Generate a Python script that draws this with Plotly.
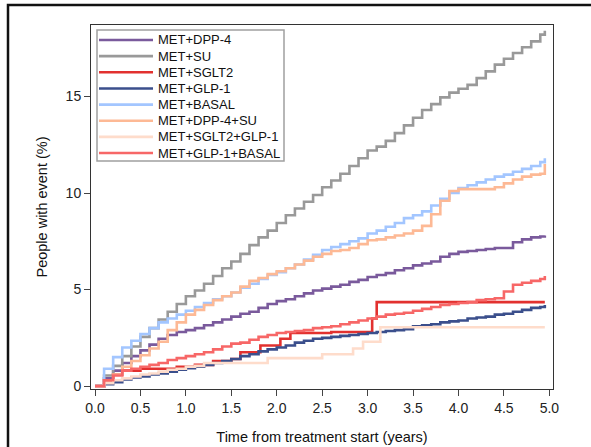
import plotly.graph_objects as go

# ---------------- data ----------------
t_grid = [0.0, 0.1, 0.2, 0.3, 0.4, 0.5, 0.6, 0.7, 0.8, 0.9,
          1.0, 1.1, 1.2, 1.3, 1.4, 1.5, 1.6, 1.7, 1.8, 1.9,
          2.0, 2.1, 2.2, 2.3, 2.4, 2.5, 2.6, 2.7, 2.8, 2.9,
          3.0, 3.1, 3.2, 3.3, 3.4, 3.5, 3.6, 3.7, 3.8, 3.9,
          4.0, 4.1, 4.2, 4.3, 4.4, 4.5, 4.6, 4.7, 4.8, 4.9, 4.95]

met_dpp4 = [0, 0.4, 0.8, 1.2, 1.55, 1.85, 2.15, 2.45, 2.65, 2.8,
            2.9, 3.0, 3.15, 3.3, 3.45, 3.6, 3.75, 3.85, 4.05, 4.25,
            4.4, 4.5, 4.65, 4.8, 4.95, 5.05, 5.15, 5.25, 5.4, 5.5,
            5.65, 5.75, 5.85, 6.0, 6.1, 6.25, 6.35, 6.45, 6.7, 6.85,
            6.95, 7.0, 7.05, 7.1, 7.15, 7.15, 7.45, 7.6, 7.7, 7.75, 7.8]

met_su = [0, 0.55, 1.05, 1.55, 2.05, 2.55, 3.0, 3.45, 3.85, 4.25,
          4.65, 4.95, 5.3, 5.7, 6.1, 6.45, 6.85, 7.3, 7.7, 8.05,
          8.45, 8.85, 9.2, 9.55, 9.9, 10.3, 10.65, 11.0, 11.4, 11.8,
          12.2, 12.4, 12.7, 13.1, 13.5, 13.9, 14.3, 14.6, 14.95, 15.2,
          15.4, 15.6, 15.95, 16.3, 16.65, 16.95, 17.25, 17.55, 17.85, 18.2, 18.4]

sglt2_t = [0, 0.1, 0.2, 0.3, 0.5, 0.9, 1.1, 1.3, 1.5, 1.6, 1.82, 2.04, 2.15, 2.6, 3.05, 3.1, 4.95]
met_sglt2 = [0, 0.3, 0.6, 0.8, 0.9, 1.0, 1.1, 1.3, 1.4, 1.75, 2.1, 2.45, 2.75, 2.8, 3.5, 4.35, 4.35]

met_glp1 = [0, 0.1, 0.2, 0.35, 0.45, 0.5, 0.6, 0.65, 0.75, 0.85,
            0.93, 1.0, 1.1, 1.2, 1.3, 1.4, 1.55, 1.65, 1.8, 1.9,
            2.0, 2.1, 2.25, 2.35, 2.45, 2.5, 2.55, 2.6, 2.65, 2.7,
            2.75, 2.8, 2.85, 2.9, 2.95, 3.1, 3.15, 3.2, 3.3, 3.35,
            3.4, 3.5, 3.55, 3.6, 3.7, 3.75, 3.85, 3.95, 4.05, 4.1, 4.2]

met_basal = [0, 0.9, 1.5, 2.0, 2.35, 2.7, 3.0, 3.3, 3.5, 3.7,
             3.9, 4.1, 4.3, 4.5, 4.65, 4.85, 5.1, 5.3, 5.55, 5.75,
             5.9, 6.1, 6.3, 6.55, 6.8, 7.05, 7.2, 7.35, 7.5, 7.65,
             7.9, 8.05, 8.25, 8.45, 8.7, 8.85, 9.05, 9.35, 9.7, 10.0,
             10.25, 10.4, 10.55, 10.7, 10.85, 10.95, 11.1, 11.25, 11.4, 11.6, 11.8]

met_dpp4_su = [0, 0.3, 0.6, 1.0, 1.3, 1.6, 1.95, 2.3, 2.9, 3.3,
               3.7, 3.95, 4.2, 4.45, 4.65, 4.85, 5.15, 5.45, 5.6, 5.8,
               5.95, 6.1, 6.3, 6.5, 6.7, 6.85, 7.0, 7.05, 7.15, 7.35,
               7.55, 7.6, 7.7, 7.8, 7.9, 8.05, 8.3, 8.9, 9.6, 10.1,
               10.2, 10.2, 10.2, 10.2, 10.3, 10.5, 10.7, 10.85, 10.95, 11.0, 11.5]

sglt2_glp1_t = [0, 0.1, 0.2, 0.3, 0.4, 0.5, 0.6, 0.7, 0.8, 0.9, 1.0, 1.1, 1.2,
                1.9, 2.5, 2.84, 2.95, 3.14, 4.95]
met_sglt2_glp1 = [0, 0.15, 0.3, 0.4, 0.5, 0.6, 0.65, 0.75, 0.85, 0.9, 1.0, 1.05, 1.2,
                  1.45, 1.65, 1.95, 2.3, 3.05, 3.05]

met_glp1_basal = [0, 0.3, 0.55, 0.8, 0.9, 1.0, 1.1, 1.2, 1.35, 1.45,
                  1.55, 1.65, 1.75, 1.9, 2.05, 2.2, 2.25, 2.4, 2.55, 2.65,
                  2.75, 2.8, 2.85, 2.9, 3.0, 3.05, 3.1, 3.2, 3.3, 3.4,
                  3.5, 3.6, 3.7, 3.75, 3.8, 3.9, 4.0, 4.1, 4.2, 4.25,
                  4.3, 4.35, 4.45, 4.5, 4.55, 4.9, 5.25, 5.35, 5.45, 5.55, 5.7]

names = ["MET+DPP-4", "MET+SU", "MET+SGLT2", "MET+GLP-1", "MET+BASAL",
         "MET+DPP-4+SU", "MET+SGLT2+GLP-1", "MET+GLP-1+BASAL"]
xs = [t_grid, t_grid, sglt2_t, t_grid, t_grid, t_grid, sglt2_glp1_t, t_grid]
ys = [met_dpp4, met_su, met_sglt2, met_glp1, met_basal, met_dpp4_su,
      met_sglt2_glp1, met_glp1_basal]
colors = ["#7a5a9c", "#999999", "#e2312f", "#3b4f8c", "#a3c6ff",
          "#fdb995", "#fedccb", "#f76767"]

x_ticks = [0.0, 0.5, 1.0, 1.5, 2.0, 2.5, 3.0, 3.5, 4.0, 4.5, 5.0]
y_ticks = [0, 5, 10, 15]

# ---------------- figure ----------------
W, H = 591, 447
ML, MR, MT, MB = 91, 38, 25, 58
PW, PH = W - ML - MR, H - MT - MB


def px_x(p):
    return (p - ML) / PW


def px_y(p):
    return (H - MB - p) / PH


fig = go.Figure()
for n, x, y, c in zip(names, xs, ys, colors):
    fig.add_trace(go.Scatter(x=x, y=y, mode="lines", name=n,
                             line=dict(color=c, width=2.6, shape="hv"),
                             showlegend=False))

FONT = "Liberation Sans, Arial, sans-serif"
shapes = []
annotations = []

# outer frame
shapes.append(dict(type="rect", xref="paper", yref="paper",
                   x0=px_x(8), x1=px_x(640), y0=px_y(520), y1=px_y(5),
                   line=dict(color="#111111", width=2.5)))

# legend box
shapes.append(dict(type="rect", xref="paper", yref="paper",
                   x0=px_x(97), x1=px_x(284), y0=px_y(161), y1=px_y(30),
                   line=dict(color="#a0a0a0", width=1.5),
                   fillcolor="white", layer="above"))
for i, (n, c) in enumerate(zip(names, colors)):
    yy = 40 + 16.15 * i
    shapes.append(dict(type="line", xref="paper", yref="paper",
                       x0=px_x(99), x1=px_x(153), y0=px_y(yy), y1=px_y(yy),
                       line=dict(color=c, width=2.6), layer="above"))
    annotations.append(dict(xref="paper", yref="paper", x=px_x(156), y=px_y(yy),
                            text=n, showarrow=False, xanchor="left",
                            yanchor="middle",
                            font=dict(family=FONT, size=13, color="#111111")))

fig.update_layout(
    width=W, height=H,
    margin=dict(l=ML, r=MR, t=MT, b=MB),
    paper_bgcolor="white", plot_bgcolor="white",
    font=dict(family=FONT, size=14, color="#222222"),
    shapes=shapes, annotations=annotations,
    showlegend=False,
)
fig.update_xaxes(range=[-0.044, 5.04], tickvals=x_ticks,
                 ticktext=[f"{v:.1f}" for v in x_ticks],
                 ticks="outside", ticklen=6, tickcolor="#444444",
                 showgrid=False, zeroline=False, automargin=False,
                 showline=True, linecolor="#333333", linewidth=1, mirror=True,
                 tickfont=dict(size=14, color="#222222"),
                 title=dict(text="Time from treatment start (years)",
                            font=dict(size=14.5, color="#111111"), standoff=17))
fig.update_yaxes(range=[-0.15, 18.7], tickvals=y_ticks,
                 ticktext=[str(v) for v in y_ticks],
                 ticks="outside", ticklen=6, tickcolor="#444444",
                 showgrid=False, zeroline=False, automargin=False,
                 showline=True, linecolor="#333333", linewidth=1, mirror=True,
                 tickfont=dict(size=14, color="#222222"),
                 title=dict(text="People with event (%)",
                            font=dict(size=14.5, color="#111111"), standoff=14))

fig.write_html("out.html")
